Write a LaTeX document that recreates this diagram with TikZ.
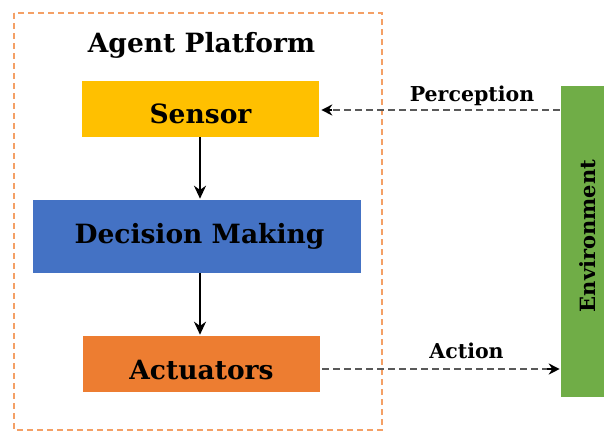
\documentclass[tikz,border=0pt]{standalone}
\usepackage{fontspec}
\setmainfont{DejaVu Serif}
\usetikzlibrary{arrows.meta}
\definecolor{sensorfill}{HTML}{FFC000}
\definecolor{decisionfill}{HTML}{4472C4}
\definecolor{actfill}{HTML}{ED7D31}
\definecolor{envfill}{HTML}{70AD47}
\definecolor{framecol}{HTML}{F4A066}
\definecolor{linkcol}{HTML}{595959}
\tikzset{
  block/.style={draw=white, line width=0.6pt, inner sep=0pt},
  blocktext/.style={anchor=base, inner sep=0pt, font=\bfseries\fontsize{26.5}{30}\selectfont},
  flow/.style={-{Stealth[length=13pt,width=12pt]}, line width=2.6pt, black},
  link/.style={dash pattern=on 7pt off 4pt, line width=2pt, draw=linkcol},
  linktip/.style={-{Stealth[length=11pt,width=11pt,fill=black]}, line width=2pt},
  caption/.style={anchor=base, font=\bfseries\fontsize{20.5}{24}\selectfont, inner sep=0pt}
}
\begin{document}
\begin{tikzpicture}[x=1pt,y=-1pt]
\useasboundingbox (0,0) rectangle (604,432);
% agent platform frame
\draw[framecol, line width=1.6pt, dash pattern=on 6pt off 4pt] (14,13) rectangle (382,430);
\node[blocktext] (title) at (201.5,52) {Agent Platform};
% components
\node[block, fill=sensorfill, minimum width=238pt, minimum height=57pt] (sensor) at (200,108.5) {};
\node[blocktext] (sensortext) at (200.5,123) {Sensor};
\node[block, fill=decisionfill, minimum width=329pt, minimum height=74pt] (decision) at (197,236) {};
\node[blocktext] (decisiontext) at (199.5,243) {Decision Making};
\node[block, fill=actfill, minimum width=238pt, minimum height=57pt] (act) at (201,363.5) {};
\node[blocktext] (acttext) at (201.5,379) {Actuators};
% environment
\node[draw=white, line width=0.6pt, fill=envfill, minimum width=46pt, minimum height=312pt, inner sep=0pt] (env) at (583,241) {};
\node[anchor=base, font=\bfseries\fontsize{21}{24}\selectfont, rotate=90, inner sep=0pt] (envlabel) at (595,236) {Environment};
% internal flow
\coordinate (f1) at (200,137);
\draw[flow] (f1) -- (f1 |- decision.north);
\coordinate (f2) at (200,273);
\draw[flow] (f2) -- (f2 |- act.north);
% exchange with environment
\coordinate (pin) at (env.west |- 0,110);
\coordinate (pout) at (sensor.east |- 0,110);
\draw[link] (pin) -- ([xshift=10pt]pout);
\draw[linktip] ([xshift=13pt]pout) -- ([xshift=2pt]pout);
\node[caption] (perc) at (472,101.5) {Perception};
\coordinate (ain) at (act.east |- 0,369);
\coordinate (aout) at (env.west |- 0,369);
\draw[link] ([xshift=2pt]ain) -- ([xshift=-10pt]aout);
\draw[linktip] ([xshift=-13pt]aout) -- (aout);
\node[caption] (actl) at (466.5,358) {Action};
\end{tikzpicture}
\end{document}
